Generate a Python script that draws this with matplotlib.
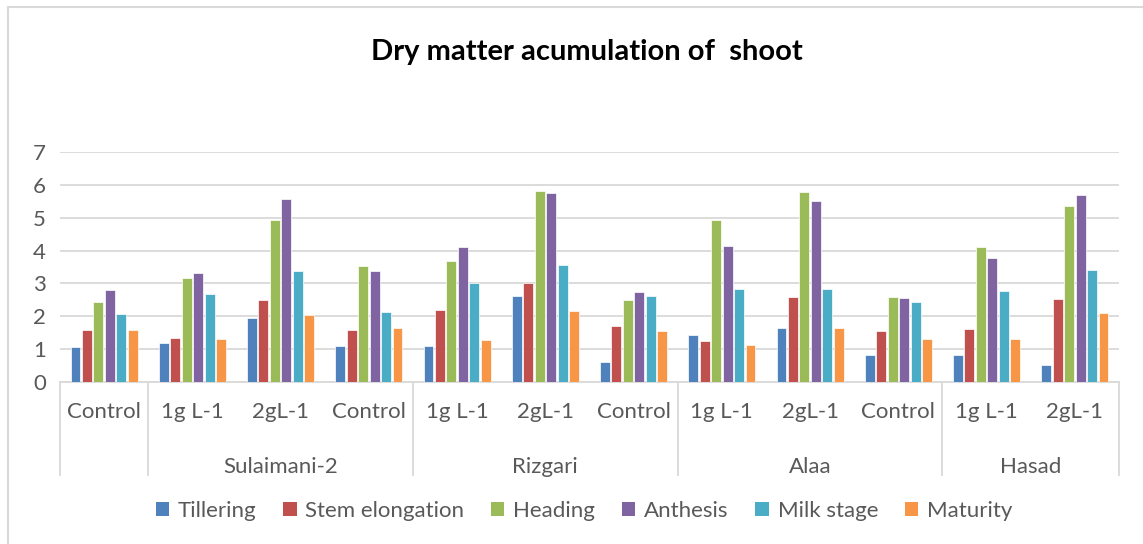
import numpy as np
import matplotlib
matplotlib.use('Agg')
from matplotlib import pyplot as plt
from matplotlib.patches import Rectangle, Patch

plt.rcParams['font.family'] = ['Lato', 'DejaVu Sans']

# Category labels (inner level) and group labels (outer level)
categories = ['Control', '1g L-1', '2gL-1', 'Control', '1g L-1', '2gL-1',
              'Control', '1g L-1', '2gL-1', 'Control', '1g L-1', '2gL-1']
groups = ['Sulaimani-2', 'Rizgari', 'Alaa', 'Hasad']
group_spans = [(1, 3), (4, 6), (7, 9), (10, 11)]

series_names = ['Tillering', 'Stem elongation', 'Heading', 'Anthesis',
                'Milk stage', 'Maturity']
tillering = [1.06, 1.18, 1.95, 1.11, 1.09, 2.61, 0.61, 1.43, 1.64, 0.83, 0.83, 0.51]
stem_elongation = [1.59, 1.35, 2.49, 1.58, 2.18, 3.00, 1.70, 1.26, 2.60, 1.54, 1.61, 2.54]
heading = [2.44, 3.18, 4.94, 3.54, 3.68, 5.80, 2.50, 4.94, 5.78, 2.59, 4.10, 5.37]
anthesis = [2.79, 3.32, 5.58, 3.38, 4.12, 5.76, 2.73, 4.13, 5.52, 2.56, 3.78, 5.68]
milk_stage = [2.07, 2.67, 3.39, 2.14, 3.02, 3.57, 2.61, 2.83, 2.83, 2.44, 2.77, 3.42]
maturity = [1.58, 1.30, 2.03, 1.64, 1.27, 2.17, 1.54, 1.14, 1.64, 1.30, 1.30, 2.11]

all_series = [tillering, stem_elongation, heading, anthesis, milk_stage, maturity]
colors = ['#4F81BD', '#C0504D', '#9BBB59', '#8064A2', '#4BACC6', '#F79646']

W, H = 1143, 544
fig = plt.figure(figsize=(W / 100, H / 100), dpi=100)

# outer chart border
fig.patches.append(Rectangle((8 / W, -0.05), 1.1, 1 - 7 / H + 0.05,
                             transform=fig.transFigure, fill=False,
                             edgecolor='#d9d9d9', linewidth=1.5))

ax = fig.add_axes([60 / W, 1 - 382 / H, (1119 - 60) / W, (382 - 152) / H])

x = np.arange(len(categories))
step = 0.13
width = 0.112
for i, (name, vals, c) in enumerate(zip(series_names, all_series, colors)):
    offset = (i - 2.5) * step
    ax.bar(x + offset, vals, width, color=c, edgecolor='white',
           linewidth=0.5, label=name, zorder=3)

ax.set_xlim(-0.5, len(categories) - 0.5)
ax.set_ylim(0, 7)
ax.set_yticks(range(8))
ax.grid(axis='y', color='#d9d9d9', linewidth=1.3, zorder=0)
for s in ['top', 'right', 'left']:
    ax.spines[s].set_visible(False)
ax.spines['bottom'].set_color('#d9d9d9')
ax.spines['bottom'].set_linewidth(1.3)
ax.tick_params(axis='y', length=0, labelsize=16, labelcolor='#595959', pad=10)
ax.set_xticks([])

# category labels
for xi, lab in zip(x, categories):
    ax.text(xi, -0.13, lab, transform=ax.get_xaxis_transform(), ha='center',
            va='center', fontsize=16, color='#595959')

# group labels
for g, (a, b) in zip(groups, group_spans):
    ax.text((a + b) / 2, -0.37, g, transform=ax.get_xaxis_transform(),
            ha='center', va='center', fontsize=16, color='#595959')

# separators between groups
for bx in [-0.5, 0.5, 3.5, 6.5, 9.5, 11.5]:
    ax.plot([bx, bx], [0, -0.404], transform=ax.get_xaxis_transform(),
            color='#d9d9d9', linewidth=1.3, clip_on=False)

fig.text(587 / W, 1 - 52 / H, 'Dry matter acumulation of  shoot',
         ha='center', va='center', fontsize=21, fontweight='bold', color='black')

handles = [Patch(facecolor=c, label=n) for n, c in zip(series_names, colors)]
fig.legend(handles=handles, loc='center', bbox_to_anchor=(584 / W, 1 - 511 / H),
           ncol=6, frameon=False, fontsize=16, labelcolor='#595959',
           handlelength=0.6, handleheight=0.6, handletextpad=0.4,
           columnspacing=1.2)

fig.savefig('out.png', dpi=100)
